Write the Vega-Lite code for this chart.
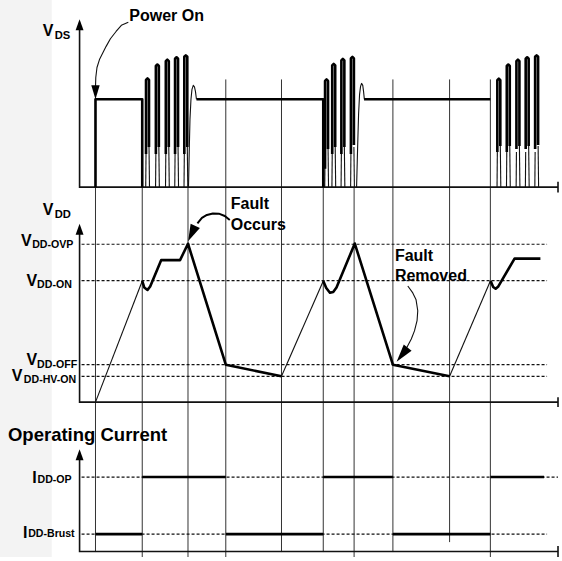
{
  "$schema": "https://vega.github.io/schema/vega-lite/v6.json",
  "width": 562,
  "height": 561,
  "padding": 0,
  "autosize": {"type": "fit", "contains": "padding"},
  "background": "white",
  "config": {"view": {"stroke": null}},
  "datasets": {
    "band": [{"x": 0, "x2": 52, "y": 0, "y2": 561}],
    "grid": [
      {"s": "g1", "x": 96, "y": 188.5}, {"s": "g1", "x": 96, "y": 556},
      {"s": "g2", "x": 143, "y": 188.5}, {"s": "g2", "x": 143, "y": 561},
      {"s": "g3", "x": 189, "y": 188.5}, {"s": "g3", "x": 189, "y": 561},
      {"s": "g4", "x": 227, "y": 80}, {"s": "g4", "x": 227, "y": 561},
      {"s": "g5", "x": 283, "y": 80}, {"s": "g5", "x": 283, "y": 556},
      {"s": "g6", "x": 325, "y": 100}, {"s": "g6", "x": 325, "y": 556},
      {"s": "g7", "x": 356, "y": 188.5}, {"s": "g7", "x": 356, "y": 561},
      {"s": "g8", "x": 395, "y": 80}, {"s": "g8", "x": 395, "y": 556},
      {"s": "g9", "x": 452, "y": 80}, {"s": "g9", "x": 452, "y": 546},
      {"s": "g10", "x": 493, "y": 80}, {"s": "g10", "x": 493, "y": 561}
    ],
    "axes": [
      {"s": "a1", "x": 80, "y": 26}, {"s": "a1", "x": 80, "y": 188.5}, {"s": "a1", "x": 561, "y": 188.5},
      {"s": "t1", "x": 561, "y": 183}, {"s": "t1", "x": 561, "y": 194},
      {"s": "a2", "x": 80, "y": 232}, {"s": "a2", "x": 80, "y": 405}, {"s": "a2", "x": 561, "y": 405},
      {"s": "t2", "x": 561, "y": 400}, {"s": "t2", "x": 561, "y": 410},
      {"s": "a3", "x": 80, "y": 459}, {"s": "a3", "x": 80, "y": 555.5}, {"s": "a3", "x": 561, "y": 555.5},
      {"s": "t3", "x": 561, "y": 550}, {"s": "t3", "x": 561, "y": 561}
    ],
    "dotted": [
      {"s": "d1", "x": 82, "y": 246}, {"s": "d1", "x": 550, "y": 246},
      {"s": "d2", "x": 82, "y": 282.7}, {"s": "d2", "x": 550, "y": 282.7},
      {"s": "d3", "x": 82, "y": 367.3}, {"s": "d3", "x": 550, "y": 367.3},
      {"s": "d4", "x": 82, "y": 379}, {"s": "d4", "x": 550, "y": 379},
      {"s": "d5", "x": 82, "y": 480.5}, {"s": "d5", "x": 561, "y": 480.5},
      {"s": "d6", "x": 82, "y": 538}, {"s": "d6", "x": 550, "y": 538}
    ],
    "fine": [
      {"s": "r1", "x": 96, "y": 405}, {"s": "r1", "x": 143, "y": 283},
      {"s": "r2", "x": 283, "y": 379}, {"s": "r2", "x": 325, "y": 283},
      {"s": "r3", "x": 452, "y": 379}, {"s": "r3", "x": 493, "y": 283},
      {"s": "h1", "x": 189.5, "y": 188.5}, {"s": "h1", "x": 190.3, "y": 150}, {"s": "h1", "x": 191, "y": 120}, {"s": "h1", "x": 192, "y": 100}, {"s": "h1", "x": 193, "y": 90}, {"s": "h1", "x": 194.3, "y": 86}, {"s": "h1", "x": 195.5, "y": 87.5}, {"s": "h1", "x": 196.5, "y": 92}, {"s": "h1", "x": 197.5, "y": 100},
      {"s": "h2", "x": 358.5, "y": 188.5}, {"s": "h2", "x": 359.5, "y": 150}, {"s": "h2", "x": 360.5, "y": 115}, {"s": "h2", "x": 361.5, "y": 95}, {"s": "h2", "x": 362.5, "y": 87}, {"s": "h2", "x": 363.5, "y": 84}, {"s": "h2", "x": 364.7, "y": 86}, {"s": "h2", "x": 365.5, "y": 92}, {"s": "h2", "x": 366.3, "y": 100},
      {"s": "pw", "x": 129, "y": 22.5}, {"s": "pw", "x": 122, "y": 25.5}, {"s": "pw", "x": 116.7, "y": 31.7}, {"s": "pw", "x": 111, "y": 39}, {"s": "pw", "x": 106.7, "y": 46.7}, {"s": "pw", "x": 100, "y": 60}, {"s": "pw", "x": 97.5, "y": 68}, {"s": "pw", "x": 96.3, "y": 78}, {"s": "pw", "x": 96, "y": 88},
      {"s": "fr", "x": 410, "y": 288}, {"s": "fr", "x": 415, "y": 295}, {"s": "fr", "x": 418.3, "y": 302}, {"s": "fr", "x": 420, "y": 313}, {"s": "fr", "x": 419.3, "y": 323}, {"s": "fr", "x": 416.7, "y": 333.3}, {"s": "fr", "x": 413.5, "y": 341.5}, {"s": "fr", "x": 409, "y": 350},
      {"s": "a1", "x": 146.8, "y": 155}, {"s": "a1", "x": 146.5, "y": 188.5}, {"s": "b1", "x": 149.8, "y": 148}, {"s": "b1", "x": 150.3, "y": 188.5},
      {"s": "a2", "x": 156.7, "y": 155}, {"s": "a2", "x": 156.4, "y": 188.5}, {"s": "b2", "x": 159.7, "y": 148}, {"s": "b2", "x": 160.2, "y": 188.5},
      {"s": "a3", "x": 166.7, "y": 155}, {"s": "a3", "x": 166.4, "y": 188.5}, {"s": "b3", "x": 169.7, "y": 148}, {"s": "b3", "x": 170.2, "y": 188.5},
      {"s": "a4", "x": 176, "y": 155}, {"s": "a4", "x": 175.7, "y": 188.5}, {"s": "b4", "x": 179, "y": 148}, {"s": "b4", "x": 179.5, "y": 188.5},
      {"s": "a5", "x": 185.3, "y": 155}, {"s": "a5", "x": 185, "y": 188.5}, {"s": "b5", "x": 188.3, "y": 148}, {"s": "b5", "x": 188.8, "y": 188.5},
      {"s": "c1", "x": 326.8, "y": 155}, {"s": "c1", "x": 326.5, "y": 188.5}, {"s": "e1", "x": 329.8, "y": 148}, {"s": "e1", "x": 330.3, "y": 188.5},
      {"s": "c2", "x": 334, "y": 155}, {"s": "c2", "x": 333.7, "y": 188.5}, {"s": "e2", "x": 337, "y": 148}, {"s": "e2", "x": 337.5, "y": 188.5},
      {"s": "c3", "x": 343.2, "y": 155}, {"s": "c3", "x": 342.9, "y": 188.5}, {"s": "e3", "x": 346.2, "y": 148}, {"s": "e3", "x": 346.7, "y": 188.5},
      {"s": "c4", "x": 352.8, "y": 155}, {"s": "c4", "x": 352.5, "y": 188.5}, {"s": "e4", "x": 355.8, "y": 148}, {"s": "e4", "x": 356.3, "y": 188.5},
      {"s": "f1", "x": 500, "y": 153}, {"s": "f1", "x": 499.7, "y": 188.5}, {"s": "k1", "x": 503, "y": 147}, {"s": "k1", "x": 503.5, "y": 188.5},
      {"s": "f2", "x": 509.5, "y": 153}, {"s": "f2", "x": 509.2, "y": 188.5}, {"s": "k2", "x": 512.5, "y": 147}, {"s": "k2", "x": 513, "y": 188.5},
      {"s": "f3", "x": 519.2, "y": 153}, {"s": "f3", "x": 518.9, "y": 188.5}, {"s": "k3", "x": 522.2, "y": 147}, {"s": "k3", "x": 522.7, "y": 188.5},
      {"s": "f4", "x": 528.5, "y": 153}, {"s": "f4", "x": 528.2, "y": 188.5}, {"s": "k4", "x": 531.5, "y": 147}, {"s": "k4", "x": 532, "y": 188.5},
      {"s": "f5", "x": 538, "y": 153}, {"s": "f5", "x": 537.7, "y": 188.5}, {"s": "k5", "x": 541, "y": 147}, {"s": "k5", "x": 541.5, "y": 188.5}
    ],
    "thick": [
      {"s": "v1", "x": 96, "y": 188.5}, {"s": "v1", "x": 96, "y": 100}, {"s": "v1", "x": 143, "y": 100}, {"s": "v1", "x": 143, "y": 188.5},
      {"s": "v2", "x": 197.5, "y": 100}, {"s": "v2", "x": 325, "y": 100}, {"s": "v2", "x": 325, "y": 188.5},
      {"s": "v3", "x": 366, "y": 100}, {"s": "v3", "x": 493, "y": 100},
      {"s": "p1", "x": 146.8, "y": 155}, {"s": "p1", "x": 146.8, "y": 80.5}, {"s": "p1", "x": 148.3, "y": 79}, {"s": "p1", "x": 149.8, "y": 80.5}, {"s": "p1", "x": 149.8, "y": 148},
      {"s": "p2", "x": 156.7, "y": 155}, {"s": "p2", "x": 156.7, "y": 66.5}, {"s": "p2", "x": 158.2, "y": 65}, {"s": "p2", "x": 159.7, "y": 66.5}, {"s": "p2", "x": 159.7, "y": 148},
      {"s": "p3", "x": 166.7, "y": 155}, {"s": "p3", "x": 166.7, "y": 61.5}, {"s": "p3", "x": 168.2, "y": 60}, {"s": "p3", "x": 169.7, "y": 61.5}, {"s": "p3", "x": 169.7, "y": 148},
      {"s": "p4", "x": 176, "y": 155}, {"s": "p4", "x": 176, "y": 59.2}, {"s": "p4", "x": 177.5, "y": 57.7}, {"s": "p4", "x": 179, "y": 59.2}, {"s": "p4", "x": 179, "y": 148},
      {"s": "p5", "x": 185.3, "y": 155}, {"s": "p5", "x": 185.3, "y": 57.2}, {"s": "p5", "x": 186.8, "y": 55.7}, {"s": "p5", "x": 188.3, "y": 57.2}, {"s": "p5", "x": 188.3, "y": 148},
      {"s": "q1", "x": 326.8, "y": 170}, {"s": "q1", "x": 326.8, "y": 81.5}, {"s": "q1", "x": 328.3, "y": 80}, {"s": "q1", "x": 329.8, "y": 81.5}, {"s": "q1", "x": 329.8, "y": 150},
      {"s": "q2", "x": 334, "y": 155}, {"s": "q2", "x": 334, "y": 65.8}, {"s": "q2", "x": 335.5, "y": 64.3}, {"s": "q2", "x": 337, "y": 65.8}, {"s": "q2", "x": 337, "y": 148},
      {"s": "q3", "x": 343.2, "y": 155}, {"s": "q3", "x": 343.2, "y": 60.8}, {"s": "q3", "x": 344.7, "y": 59.3}, {"s": "q3", "x": 346.2, "y": 60.8}, {"s": "q3", "x": 346.2, "y": 148},
      {"s": "q4", "x": 352.8, "y": 155}, {"s": "q4", "x": 352.8, "y": 58.8}, {"s": "q4", "x": 354.3, "y": 57.3}, {"s": "q4", "x": 355.8, "y": 58.8}, {"s": "q4", "x": 355.8, "y": 146},
      {"s": "u1", "x": 500, "y": 153}, {"s": "u1", "x": 500, "y": 80.8}, {"s": "u1", "x": 501.5, "y": 79.3}, {"s": "u1", "x": 503, "y": 80.8}, {"s": "u1", "x": 503, "y": 147},
      {"s": "u2", "x": 509.5, "y": 153}, {"s": "u2", "x": 509.5, "y": 66.5}, {"s": "u2", "x": 511, "y": 65}, {"s": "u2", "x": 512.5, "y": 66.5}, {"s": "u2", "x": 512.5, "y": 147},
      {"s": "u3", "x": 519.2, "y": 150}, {"s": "u3", "x": 519.2, "y": 61.5}, {"s": "u3", "x": 520.7, "y": 60}, {"s": "u3", "x": 522.2, "y": 61.5}, {"s": "u3", "x": 522.2, "y": 147},
      {"s": "u4", "x": 528.5, "y": 150}, {"s": "u4", "x": 528.5, "y": 59.2}, {"s": "u4", "x": 530, "y": 57.7}, {"s": "u4", "x": 531.5, "y": 59.2}, {"s": "u4", "x": 531.5, "y": 147},
      {"s": "u5", "x": 538, "y": 150}, {"s": "u5", "x": 538, "y": 57.2}, {"s": "u5", "x": 539.5, "y": 55.7}, {"s": "u5", "x": 541, "y": 57.2}, {"s": "u5", "x": 541, "y": 146},
      {"s": "w1", "x": 143, "y": 283}, {"s": "w1", "x": 145, "y": 289.5}, {"s": "w1", "x": 148.3, "y": 292}, {"s": "w1", "x": 151, "y": 288.5}, {"s": "w1", "x": 162, "y": 262}, {"s": "w1", "x": 181, "y": 262}, {"s": "w1", "x": 189, "y": 245.5}, {"s": "w1", "x": 227, "y": 367.3}, {"s": "w1", "x": 283, "y": 379},
      {"s": "w2", "x": 325, "y": 283}, {"s": "w2", "x": 328, "y": 290}, {"s": "w2", "x": 331.7, "y": 294.8}, {"s": "w2", "x": 335, "y": 294}, {"s": "w2", "x": 338.3, "y": 289.5}, {"s": "w2", "x": 356.7, "y": 245.3}, {"s": "w2", "x": 395, "y": 367.3}, {"s": "w2", "x": 452, "y": 379},
      {"s": "w3", "x": 493.3, "y": 283}, {"s": "w3", "x": 495.8, "y": 289}, {"s": "w3", "x": 498.3, "y": 290.8}, {"s": "w3", "x": 501, "y": 288.5}, {"s": "w3", "x": 517.3, "y": 260.5}, {"s": "w3", "x": 543.3, "y": 260.5},
      {"s": "i1", "x": 96, "y": 538}, {"s": "i1", "x": 143, "y": 538},
      {"s": "i2", "x": 143, "y": 480.5}, {"s": "i2", "x": 227, "y": 480.5},
      {"s": "i3", "x": 227, "y": 538}, {"s": "i3", "x": 325, "y": 538},
      {"s": "i4", "x": 325, "y": 480.5}, {"s": "i4", "x": 395, "y": 480.5},
      {"s": "i5", "x": 395, "y": 538}, {"s": "i5", "x": 493, "y": 538},
      {"s": "i6", "x": 493, "y": 480.5}, {"s": "i6", "x": 547, "y": 480.5}
    ],
    "faultarc": [
      {"s": "fo", "x": 231, "y": 221.5}, {"s": "fo", "x": 226, "y": 217.5}, {"s": "fo", "x": 220, "y": 215.2}, {"s": "fo", "x": 214, "y": 215}, {"s": "fo", "x": 208, "y": 216.5}, {"s": "fo", "x": 203, "y": 219.5}, {"s": "fo", "x": 198.5, "y": 225}
    ],
    "uparrows": [{"x": 80, "y": 25}, {"x": 80, "y": 231}, {"x": 80, "y": 458}],
    "powarrow": [{"x": 96, "y": 93}],
    "occarrow": [{"x": 192.7, "y": 235.3}],
    "remarrow": [{"x": 404.3, "y": 357.3}],
    "texts": [
      {"k": "hdr", "t": "V", "x": 43, "y": 36.7},
      {"k": "hdr", "t": "V", "x": 43, "y": 216.7},
      {"k": "hsub", "t": "DS", "x": 55, "y": 39.3},
      {"k": "hsub", "t": "DD", "x": 55, "y": 219.3},
      {"k": "lv", "t": "V", "x": 21, "y": 247.5},
      {"k": "lv", "t": "V", "x": 26.7, "y": 288.3},
      {"k": "lv", "t": "V", "x": 26.7, "y": 367.7},
      {"k": "lv", "t": "V", "x": 11.7, "y": 384},
      {"k": "lv", "t": "I", "x": 32.3, "y": 486},
      {"k": "lv", "t": "I", "x": 23, "y": 541.7},
      {"k": "ls", "t": "DD-OVP", "x": 32.3, "y": 249.5},
      {"k": "ls", "t": "DD-ON", "x": 37.3, "y": 290.3},
      {"k": "ls", "t": "DD-OFF", "x": 37.3, "y": 370.7},
      {"k": "ls", "t": "DD-HV-ON", "x": 24, "y": 385.3},
      {"k": "ls", "t": "DD-OP", "x": 37.7, "y": 486.5},
      {"k": "ls", "t": "DD-Brust", "x": 28.3, "y": 541.3},
      {"k": "note", "t": "Power On", "x": 130, "y": 21.5},
      {"k": "note", "t": "Fault", "x": 232, "y": 211},
      {"k": "note", "t": "Occurs", "x": 232, "y": 231.7},
      {"k": "note", "t": "Fault", "x": 397, "y": 263.3},
      {"k": "note", "t": "Removed", "x": 397, "y": 282.7},
      {"k": "title", "t": "Operating Current", "x": 8, "y": 444.5}
    ]
  },
  "encoding": {
    "x": {"field": "x", "type": "quantitative", "scale": {"domain": [0, 562], "nice": false, "zero": false}, "axis": null},
    "y": {"field": "y", "type": "quantitative", "scale": {"domain": [0, 561], "reverse": true, "nice": false, "zero": false}, "axis": null}
  },
  "layer": [
    {
      "data": {"name": "band"},
      "mark": {"type": "rect", "color": "#f3f3f3"},
      "encoding": {"x2": {"field": "x2"}, "y2": {"field": "y2"}}
    },
    {
      "data": {"name": "grid"},
      "mark": {"type": "line", "color": "#333333", "strokeWidth": 1},
      "encoding": {"detail": {"field": "s"}, "order": {"value": null}}
    },
    {
      "data": {"name": "dotted"},
      "mark": {"type": "line", "color": "#111111", "strokeWidth": 1.2, "strokeDash": [3, 2]},
      "encoding": {"detail": {"field": "s"}, "order": {"value": null}}
    },
    {
      "data": {"name": "axes"},
      "mark": {"type": "line", "color": "#111111", "strokeWidth": 1.6, "strokeJoin": "miter"},
      "encoding": {"detail": {"field": "s"}, "order": {"value": null}}
    },
    {
      "data": {"name": "fine"},
      "mark": {"type": "line", "color": "#111111", "strokeWidth": 1.1, "strokeJoin": "round"},
      "encoding": {"detail": {"field": "s"}, "order": {"value": null}}
    },
    {
      "data": {"name": "thick"},
      "mark": {"type": "line", "color": "#000000", "strokeWidth": 2.6, "strokeJoin": "round", "strokeCap": "butt"},
      "encoding": {"detail": {"field": "s"}, "order": {"value": null}}
    },
    {
      "data": {"name": "faultarc"},
      "mark": {"type": "line", "color": "#000000", "strokeWidth": 2, "strokeJoin": "round"},
      "encoding": {"detail": {"field": "s"}, "order": {"value": null}}
    },
    {
      "data": {"name": "uparrows"},
      "mark": {"type": "point", "shape": "M0,-1L0.72,1L-0.72,1Z", "size": 121, "filled": true, "opacity": 1, "color": "#000000", "strokeWidth": 0}
    },
    {
      "data": {"name": "powarrow"},
      "mark": {"type": "point", "shape": "M0,1L0.6,-1L-0.6,-1Z", "size": 196, "filled": true, "opacity": 1, "color": "#000000", "strokeWidth": 0}
    },
    {
      "data": {"name": "occarrow"},
      "mark": {"type": "point", "shape": "M0,1L0.6,-1L-0.6,-1Z", "size": 289, "angle": 25, "filled": true, "opacity": 1, "color": "#000000", "strokeWidth": 0}
    },
    {
      "data": {"name": "remarrow"},
      "mark": {"type": "point", "shape": "M0,1L0.55,-1L-0.55,-1Z", "size": 324, "angle": 38, "filled": true, "opacity": 1, "color": "#000000", "strokeWidth": 0}
    },
    {
      "data": {"name": "texts"},
      "transform": [{"filter": "datum.k === 'hdr'"}],
      "mark": {"type": "text", "font": "Liberation Sans", "fontWeight": "bold", "fontSize": 16, "align": "left", "baseline": "alphabetic", "color": "#000000"},
      "encoding": {"text": {"field": "t"}}
    },
    {
      "data": {"name": "texts"},
      "transform": [{"filter": "datum.k === 'hsub'"}],
      "mark": {"type": "text", "font": "Liberation Sans", "fontWeight": "bold", "fontSize": 11.2, "align": "left", "baseline": "alphabetic", "color": "#000000"},
      "encoding": {"text": {"field": "t"}}
    },
    {
      "data": {"name": "texts"},
      "transform": [{"filter": "datum.k === 'lv'"}],
      "mark": {"type": "text", "font": "Liberation Sans", "fontWeight": "bold", "fontSize": 16, "align": "left", "baseline": "alphabetic", "color": "#000000"},
      "encoding": {"text": {"field": "t"}}
    },
    {
      "data": {"name": "texts"},
      "transform": [{"filter": "datum.k === 'ls'"}],
      "mark": {"type": "text", "font": "Liberation Sans", "fontWeight": "bold", "fontSize": 10.6, "align": "left", "baseline": "alphabetic", "color": "#000000"},
      "encoding": {"text": {"field": "t"}}
    },
    {
      "data": {"name": "texts"},
      "transform": [{"filter": "datum.k === 'note'"}],
      "mark": {"type": "text", "font": "Liberation Sans", "fontWeight": "bold", "fontSize": 16, "align": "left", "baseline": "alphabetic", "color": "#000000"},
      "encoding": {"text": {"field": "t"}}
    },
    {
      "data": {"name": "texts"},
      "transform": [{"filter": "datum.k === 'title'"}],
      "mark": {"type": "text", "font": "Liberation Sans", "fontWeight": "bold", "fontSize": 18.5, "align": "left", "baseline": "alphabetic", "color": "#000000"},
      "encoding": {"text": {"field": "t"}}
    }
  ]
}
